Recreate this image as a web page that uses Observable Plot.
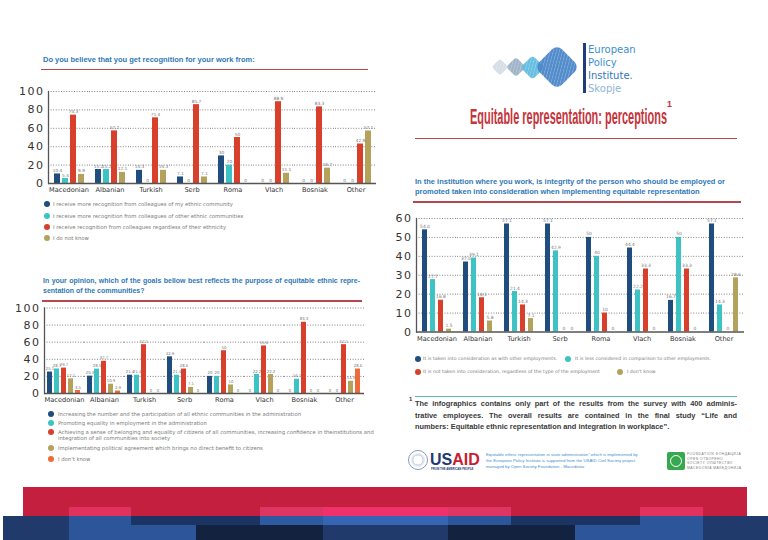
<!DOCTYPE html>
<html><head><meta charset="utf-8">
<script src="https://cdn.jsdelivr.net/npm/d3@7"></script>
<script src="https://cdn.jsdelivr.net/npm/@observablehq/plot@0.6"></script>
<style>
body{margin:0;background:#fff;}
#page{position:relative;width:768px;height:540px;overflow:hidden;background:#fff;font-family:"Liberation Sans",Arial,sans-serif;}
.abs{position:absolute;white-space:nowrap;}
.qtitle{position:absolute;color:#2f78b7;font-weight:bold;font-size:7.5px;line-height:8px;white-space:nowrap;}
.rule{position:absolute;height:1.5px;background:#b5474f;}
.lg{position:absolute;font-family:"DejaVu Sans",sans-serif;font-size:5px;line-height:6px;color:#7a7a7a;white-space:nowrap;}
.dot{position:absolute;width:6px;height:6px;border-radius:50%;}
.chart{position:absolute;}
g[aria-label="y-axis tick label"] text{letter-spacing:1.5px;}
</style></head><body><div id="page"></div>
<script>
// ---------- data ----------
const groups = ["Macedonian","Albanian","Turkish","Serb","Roma","Vlach","Bosniak","Other"];

// Chart 1: recognition
const recogSeries = [
  "I receive more recognition from colleagues of my ethnic community",
  "I receive more recognition from colleagues of other ethnic communities",
  "I receive recognition from colleagues regardless of their ethnicity",
  "I do not know"];
const recogColors = ["#1f4e7e","#3ec3c4","#d8402c","#b4a25c"];
const recogOwn        = ["10.4","15.2","14.3","7.1","30","0","0","0"];
const recogOther      = ["5.4","15.2","0","0","20","0","0","0"];
const recogRegardless = ["74.3","57.2","71.4","85.7","50","88.9","83.3","42.9"];
const recogDontKnow   = ["9.9","12.1","14.3","7.1","0","11.1","16.7","57.1"];
const recogTicks = [0,20,40,60,80,100];

// Chart 2: goals
const goalSeries = [
  "Increasing the number and the participation of all ethnic communities in the administration",
  "Promoting equality in employment in the administration",
  "Achieving a sense of belonging and equality of citizens of all communities, increasing confidence in theinstitutions and\nintegration of all communities into society",
  "Implementating political agreement which brings no direct benefit to citizens",
  "I don't know"];
const goalColors = ["#1f4e7e","#3ec3c4","#d8402c","#b4a25c","#ef6a38"];
const goalNumber    = ["25.1","20.3","21.4","42.9","20","0","0","0"];
const goalEquality  = ["28.7","28.5","21.4","21.4","20","22.2","16.7","0"];
const goalBelonging = ["29.7","37.7","57.1","28.6","50","55.6","83.3","57.1"];
const goalPolitical = ["17.1","10.9","0","7.1","10","22.2","0","14.3"];
const goalDontKnow  = ["3.5","2.9","0","0","0","0","0","28.6"];
const goalTicks = [0,20,40,60,80,100];

// Chart 3: integrity
const integSeries = [
  "It is taken into consideration as with other employments.",
  "It is less considered in comparison to other employments.",
  "It is not taken into consideration, regardless of the type of the employment",
  "I don't know"];
const integColors = ["#1f4e7e","#3ec3c4","#d8402c","#b4a25c"];
const integTaken    = ["54.0","37.0","57.1","57.1","50","44.4","16.7","57.1"];
const integLess     = ["27.7","39.1","21.4","42.9","40","22.2","50","14.3"];
const integNot      = ["16.8","18.1","14.3","0","10","33.3","33.3","0"];
const integDontKnow = ["1.5","5.8","7.1","0","0","0","0","28.6"];
const integTicks = [0,10,20,30,40,50,60];

// ---------- helpers ----------
const page = document.getElementById("page");
function el(tag, cls, css, html){
  const e = document.createElement(tag);
  if (cls) e.className = cls;
  Object.assign(e.style, css || {});
  if (html != null) e.innerHTML = html;
  page.appendChild(e);
  return e;
}

function groupedBars(o){
  const rows = [];
  groups.forEach((g,i)=>o.series.forEach((s,j)=>rows.push({group:g, series:s, label:o.columns[j][i], value:+o.columns[j][i]})));
  return Plot.plot({
    width:o.width, height:o.height,
    marginTop:o.marginTop, marginBottom:o.marginBottom, marginLeft:o.marginLeft, marginRight:o.marginRight,
    style:{fontFamily:"DejaVu Sans, sans-serif", color:"#333", background:"transparent", overflow:"visible"},
    fx:{domain:groups, padding:0, label:null},
    x:{domain:o.series, paddingInner:o.padIn, paddingOuter:o.padOut, axis:null},
    y:{domain:[0,o.yMax]},
    color:{domain:o.series, range:o.colors},
    marks:[
      Plot.gridY({ticks:o.ticks.filter(t=>t>0), stroke:"#555", strokeOpacity:0.9, strokeDasharray:"1,1.6", strokeWidth:0.8}),
      Plot.barY(rows,{fx:"group", x:"series", y:"value", fill:"series"}),
      Plot.text(rows,{fx:"group", x:"series", y:"value", text:"label", dy:-2, lineAnchor:"bottom", fontSize:o.labelSize, fill:"#777"}),
      Plot.ruleY([0],{stroke:"#555", strokeWidth:1.3}),
      Plot.frame({anchor:"left", facetAnchor:"left", stroke:"#555", strokeWidth:1.3}),
      Plot.axisY({ticks:o.ticks, tickSize:0, tickPadding:4, fontSize:11, label:null, fill:"#333"}),
      Plot.axisFx({anchor:"bottom", tickSize:0, tickPadding:4, fontSize:6.6, label:null, fill:"#333"})
    ]
  });
}

function place(svg, left, top){
  const w = el("div","chart",{left:left+"px", top:top+"px"});
  w.appendChild(svg);
}

function legendItem(x, y, color, textX, text, size){
  el("div","dot",{left:(x-3)+"px", top:(y-3)+"px", background:color});
  const lines = text.split("\n");
  el("div","lg",{left:textX+"px", top:(y-3)+"px", fontSize:(size||5)+"px"}, lines.join("<br>"));
}

// ---------- Chart 1 ----------
el("div","qtitle",{left:"43px", top:"56px"}, "Do you believe that you get recognition for your work from:");
el("div","rule",{left:"41px", top:"68.5px", width:"327px"});
place(groupedBars({series:recogSeries, colors:recogColors, columns:[recogOwn,recogOther,recogRegardless,recogDontKnow],
  ticks:recogTicks, yMax:100, width:380, height:120, marginTop:11, marginBottom:17, marginLeft:44, marginRight:1,
  padIn:0.3, padOut:0.65, labelSize:4.3}), 0, 80);
[204,216,227,238].forEach((y,i)=>legendItem(47, y, recogColors[i], 53, recogSeries[i], 5.3));

// ---------- Chart 2 ----------
el("div","qtitle",{left:"43px", top:"277px", width:"317px", textAlign:"justify", textAlignLast:"justify", fontSize:"7px"}, "In your opinion, which of the goals bellow best reflects the purpose of equitable ethnic repre-");
el("div","qtitle",{left:"43px", top:"287px", fontSize:"7px"}, "sentation of the communities?");
el("div","rule",{left:"42px", top:"300px", width:"320px"});
place(groupedBars({series:goalSeries, colors:goalColors, columns:[goalNumber,goalEquality,goalBelonging,goalPolitical,goalDontKnow],
  ticks:goalTicks, yMax:100, width:366, height:110, marginTop:7.5, marginBottom:17, marginLeft:44, marginRight:2,
  padIn:0.27, padOut:0.45, labelSize:3.9}), 0, 300);
[414,423,432,448,459].forEach((y,i)=>legendItem(51, y, goalColors[i], 58, goalSeries[i], 5.3));

// ---------- Chart 3 ----------
el("div","qtitle",{left:"415px", top:"178px"}, "In the institution where you work, is integrity of the person who should be employed or");
el("div","qtitle",{left:"415px", top:"188px"}, "promoted taken into consideration when implementing equitable representation");
el("div","rule",{left:"413px", top:"201px", width:"328px"});
place(groupedBars({series:integSeries, colors:integColors, columns:[integTaken,integLess,integNot,integDontKnow],
  ticks:integTicks, yMax:60, width:366, height:140, marginTop:8, marginBottom:18.5, marginLeft:36, marginRight:2,
  padIn:0.35, padOut:0.65, labelSize:4.4}), 380, 210);
legendItem(418, 359, integColors[0], 423, integSeries[0], 4.7);
legendItem(568, 359, integColors[1], 575, integSeries[1], 4.7);
legendItem(418, 372, integColors[2], 423, integSeries[2], 4.7);
legendItem(620, 372, integColors[3], 627, integSeries[3], 4.7);

// ---------- footnote ----------
el("div","rule",{left:"415px", top:"395.5px", width:"322px", background:"#5db9b3"});
el("div","abs",{left:"409px", top:"396px", fontSize:"6px", fontWeight:"bold", color:"#3a3a3a"}, "1");
const fnLines = [
  "The infographics contains only part of the results from the survey with 400 adminis-",
  "trative employees. The overall results are contained in the final study \u201cLife and",
  "numbers: Equitable ethnic representation and integration in workplace\u201d."];
fnLines.forEach((t,i)=>el("div","abs",{left:"415px", top:(399+i*11.5)+"px", width:i<2?"322px":"auto",
  textAlign:"justify", textAlignLast:i<2?"justify":"auto", fontSize:"7.4px", lineHeight:"9px", fontWeight:"bold", color:"#3a3a3a"}, t));

// ---------- header ----------
[[500,67,12,"#d3dce5"],[516,67,14,"#9bb0c5"],[532,67,17,"#5fbbe0"],[557,67,32,"#4a86c8"]].forEach(([cx,cy,s,c])=>{
  el("div","",{position:"absolute", left:(cx-s/2)+"px", top:(cy-s/2)+"px", width:s+"px", height:s+"px",
    background:`repeating-linear-gradient(60deg, ${c} 0px, ${c} 1.5px, ${c}bb 2px, ${c} 3px)`, borderRadius:"22%", transform:"rotate(45deg)", opacity:0.95});
});
el("div","",{position:"absolute", left:"583px", top:"43px", width:"2.5px", height:"50px", background:"#1f3d7a"});
[["European","#3d8fcf"],["Policy","#3d8fcf"],["Institute.","#3277b8"],["Skopje","#8fb4d4"]].forEach(([t,c],i)=>
  el("div","abs",{left:"588px", top:(43+i*13)+"px", fontFamily:"DejaVu Sans, sans-serif", fontSize:"10px", lineHeight:"13px", color:c}, t));

const title = el("div","abs",{left:"470px", top:"104px", fontFamily:"'Liberation Sans Narrow','Liberation Sans',sans-serif",
  fontSize:"22px", lineHeight:"26px", fontWeight:"bold", color:"#c5343b", transformOrigin:"0 50%"}, "Equitable representation: perceptions");
const tw = title.getBoundingClientRect().width;
title.style.transform = `scaleX(${197/tw})`;
el("div","abs",{left:"667px", top:"99px", fontSize:"9px", fontWeight:"bold", color:"#c5343b"}, "1");
el("div","rule",{left:"415px", top:"137.5px", width:"322px"});

// ---------- footer logos ----------
el("div","",{position:"absolute", left:"408px", top:"450px", width:"18px", height:"18px", borderRadius:"50%",
  border:"1.5px solid #8a9bb5", background:"radial-gradient(circle,#ffffff 35%,#c9d3e3 36%,#ffffff 60%)"});
el("div","abs",{left:"430px", top:"451px", fontSize:"16px", lineHeight:"17px", fontWeight:"bold", color:"#1f3a70"},
  "US<span style='color:#c8202f'>AID</span>");
el("div","abs",{left:"431px", top:"467px", fontSize:"2.8px", color:"#1f3a70", fontWeight:"bold"}, "FROM THE AMERICAN PEOPLE");
el("div","abs",{left:"486px", top:"452px", fontSize:"4.3px", lineHeight:"6px", color:"#3f8fd0"},
  "Equitable ethnic representation in state administration\u201d which is implemented by<br>the European Policy Institute is supported from the USAID Civil Society project<br>managed by Open Society Foundation - Macedonia");
el("div","",{position:"absolute", left:"667px", top:"452px", width:"18px", height:"18px", background:"#36a94f", borderRadius:"2px"});
el("div","",{position:"absolute", left:"670px", top:"455px", width:"10px", height:"10px", border:"1.5px solid #fff", borderRadius:"50%"});
el("div","abs",{left:"687px", top:"452px", fontSize:"3.4px", lineHeight:"4.5px", color:"#7a7a7a", letterSpacing:"0.5px"},
  "FOUNDATION ФОНДАЦИЈА<br>OPEN ОТВОРЕНО<br>SOCIETY ОПШТЕСТВО<br>MACEDONIA МАКЕДОНИЈА");

// ---------- bottom band ----------
el("div","",{position:"absolute", left:"23px", top:"487px", width:"724px", height:"29px", background:"#c41f3f"});
const bandCols = [
  [3,69,null,"#1f3a6b","#1f3a6b"],[69,131,"#e0315f","#2c5699","#2c5699"],[131,196,null,"#1c3463","#2c5699"],
  [196,260,null,"#1c3463","#13233f"],[260,323,"#df3563","#2d5aa0","#13233f"],[323,448,"#f0326c","#3764b3","#1f3a6b"],
  [448,511,"#df3563","#2c5699","#13233f"],[511,575,null,"#1c3463","#13233f"],[575,640,null,"#1c3463","#2c5699"],
  [640,703,"#e0315f","#2c5699","#2c5699"],[703,768,null,"#1f3a6b","#1f3a6b"]];
bandCols.forEach(([x0,x1,strip,up,low])=>{
  if (strip) el("div","",{position:"absolute", left:x0+"px", top:"507px", width:(x1-x0)+"px", height:"9px", background:strip});
  el("div","",{position:"absolute", left:x0+"px", top:"516px", width:(x1-x0)+"px", height:"9px", background:up});
  el("div","",{position:"absolute", left:x0+"px", top:"525px", width:(x1-x0)+"px", height:"15px", background:low});
});
</script></body></html>
